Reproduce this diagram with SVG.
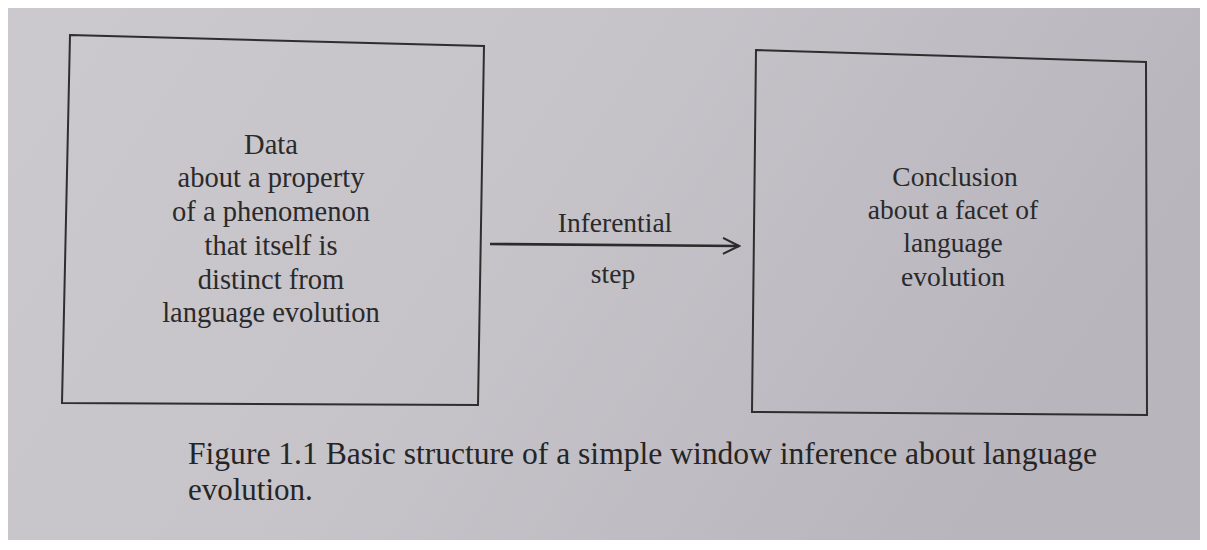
<svg xmlns="http://www.w3.org/2000/svg" width="1207" height="550" viewBox="0 0 1207 550">
<defs>
<linearGradient id="bg" x1="0" y1="0" x2="1" y2="0.3">
<stop offset="0" stop-color="#cbc8ce"/>
<stop offset="0.5" stop-color="#c6c3c9"/>
<stop offset="1" stop-color="#b9b5bd"/>
</linearGradient>
<marker id="arr" viewBox="0 0 20 20" refX="18" refY="10" markerWidth="20" markerHeight="20" markerUnits="userSpaceOnUse" orient="auto">
<path d="M2,2 L18,10 L2,18" fill="none" stroke="#2b2b2b" stroke-width="2.2"/>
</marker>
<style>
.box{fill:none;stroke:#2e2e2e;stroke-width:2}
.t{font-family:"Liberation Serif","Times New Roman",serif;font-size:28.5px;fill:#2a2a2a;text-anchor:middle}
.r{font-size:27.5px}
.cap{font-family:"Liberation Serif","Times New Roman",serif;font-size:31px;fill:#252525}
</style>
</defs>
<rect width="1207" height="550" fill="#ffffff"/>
<rect x="8" y="8" width="1192" height="532" fill="url(#bg)"/>
<g id="node-data">
<polygon class="box" points="70,35 484,46 478,405 62,403"/>
<text class="t" x="271" y="154">Data</text>
<text class="t" x="271" y="187">about a property</text>
<text class="t" x="271" y="221">of a phenomenon</text>
<text class="t" x="271" y="255">that itself is</text>
<text class="t" x="271" y="289">distinct from</text>
<text class="t" x="271" y="322">language evolution</text>
</g>
<g id="node-conclusion">
<polygon class="box" points="756,50 1146,62 1147,415 752,412"/>
<text class="t r" x="955" y="186">Conclusion</text>
<text class="t r" x="953" y="219">about a facet of</text>
<text class="t r" x="953" y="252">language</text>
<text class="t r" x="953" y="286">evolution</text>
</g>
<g id="connectors">
<line x1="490" y1="244" x2="739" y2="246" stroke="#2b2b2b" stroke-width="2.6" marker-end="url(#arr)"/>
<text class="t r" x="615" y="232">Inferential</text>
<text class="t r" x="613" y="283">step</text>
</g>
<g id="caption">
<text class="cap" x="188" y="464" textLength="909" lengthAdjust="spacingAndGlyphs">Figure 1.1 Basic structure of a simple window inference about language</text>
<text class="cap" x="188" y="500">evolution.</text>
</g>
</svg>
